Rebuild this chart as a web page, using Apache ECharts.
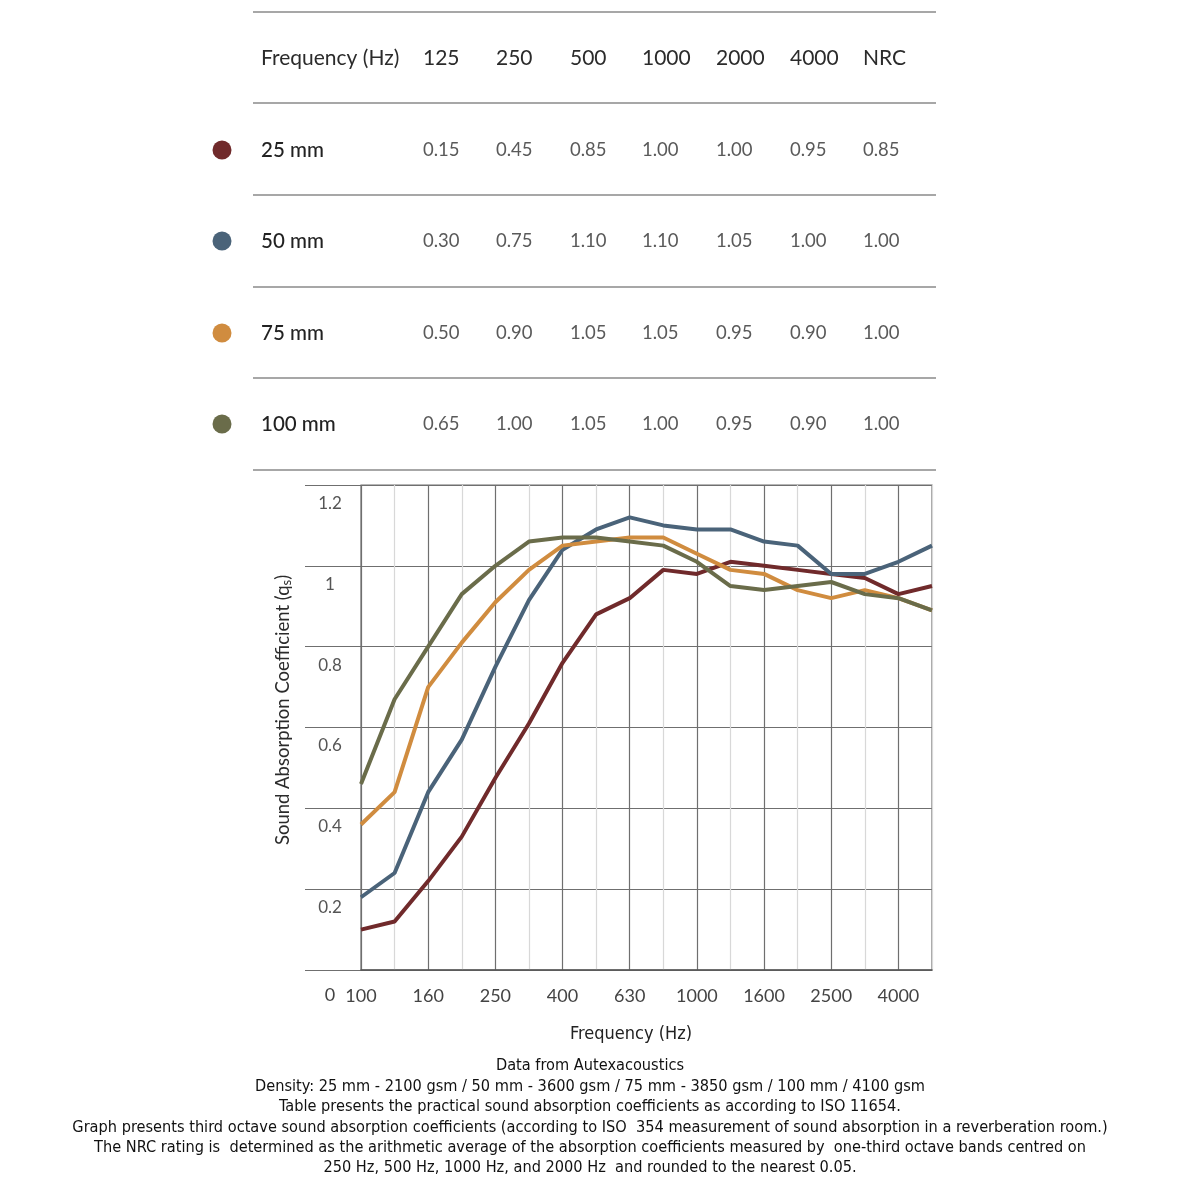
<!DOCTYPE html>
<html><head><meta charset="utf-8">
<script src="https://cdn.jsdelivr.net/npm/echarts@6/dist/echarts.min.js"></script>
<style>html,body{margin:0;padding:0;background:#fff}#c{width:1200px;height:1200px}</style>
</head><body><div id="c"></div>
<script>
// ---- data ----
const bandFreqs = ['100','125','160','200','250','315','400','500','630','800','1000','1250','1600','2000','2500','3150','4000','5000'];
const s25  = [0.10,0.12,0.22,0.33,0.475,0.61,0.76,0.88,0.92,0.99,0.98,1.01,1.00,0.99,0.98,0.97,0.93,0.95];
const s50  = [0.18,0.24,0.44,0.57,0.75,0.915,1.04,1.09,1.12,1.10,1.09,1.09,1.06,1.05,0.98,0.98,1.01,1.05];
const s75  = [0.36,0.44,0.70,0.81,0.91,0.99,1.05,1.06,1.07,1.07,1.03,0.99,0.98,0.94,0.92,0.94,0.92,0.89];
const s100 = [0.46,0.67,0.80,0.93,1.00,1.06,1.07,1.07,1.06,1.05,1.01,0.95,0.94,0.95,0.96,0.93,0.92,0.89];
const seriesNames = ['25 mm','50 mm','75 mm','100 mm'];
const seriesColors = ['#702a2b','#4a6379','#d08c3f','#6a6c4a'];
const tableHeader = ['125','250','500','1000','2000','4000','NRC'];
const table25  = ['0.15','0.45','0.85','1.00','1.00','0.95','0.85'];
const table50  = ['0.30','0.75','1.10','1.10','1.05','1.00','1.00'];
const table75  = ['0.50','0.90','1.05','1.05','0.95','0.90','1.00'];
const table100 = ['0.65','1.00','1.05','1.00','0.95','0.90','1.00'];
const footerLines = [
 'Data from Autexacoustics',
 'Density: 25 mm - 2100 gsm / 50 mm - 3600 gsm / 75 mm - 3850 gsm / 100 mm / 4100 gsm',
 'Table presents the practical sound absorption coefficients as according to ISO 11654.',
 'Graph presents third octave sound absorption coefficients (according to ISO  354 measurement of sound absorption in a reverberation room.)',
 'The NRC rating is  determined as the arithmetic average of the absorption coefficients measured by  one-third octave bands centred on',
 '250 Hz, 500 Hz, 1000 Hz, and 2000 Hz  and rounded to the nearest 0.05.'
];

// ---- layout ----
const tableRows = [table25, table50, table75, table100];
const colX = [423,496,570,642,716,790,863];
const lineYs = [12,103,195,287,378,470];
const rowYs = [150,241,333,424];
const tableFont = 'Lato, "Open Sans", sans-serif';
const footFont = '"Liberation Sans Narrow","DejaVu Sans Condensed","Roboto Condensed",sans-serif';

const graphic = [];
lineYs.forEach(y => graphic.push({type:'line', shape:{x1:253,y1:y,x2:936,y2:y}, style:{stroke:'#8a8a8a', lineWidth:1.5}, silent:true}));
graphic.push({type:'text', x:261, y:58, style:{text:'Frequency (Hz)', font:'21px '+tableFont, fill:'#2b2b2b', textVerticalAlign:'middle'}});
tableHeader.forEach((h,i) => graphic.push({type:'text', x:colX[i], y:58, style:{text:h, font:'21px '+tableFont, fill:'#2b2b2b', textVerticalAlign:'middle'}}));
tableRows.forEach((row,r) => {
  graphic.push({type:'circle', shape:{cx:222, cy:rowYs[r], r:9.5}, style:{fill:seriesColors[r]}});
  graphic.push({type:'text', x:261, y:rowYs[r], style:{text:seriesNames[r], font:'500 20.5px '+tableFont, fill:'#222', textVerticalAlign:'middle'}});
  row.forEach((v,i) => graphic.push({type:'text', x:colX[i], y:rowYs[r], style:{text:v, font:'18.5px '+tableFont, fill:'#5a5a5a', textVerticalAlign:'middle'}}));
});
graphic.push({type:'text', x:283, y:710, rotation:Math.PI/2,
  style:{text:'Sound Absorption Coefficient (q{sub|s})', font:'18.5px '+tableFont, fill:'#2b2b2b', textAlign:'center', textVerticalAlign:'middle',
    rich:{sub:{fontSize:13, fill:'#2b2b2b', fontFamily:tableFont, padding:[8,0,0,0]}}}});
graphic.push({type:'text', x:631, y:1034, style:{text:'Frequency (Hz)', font:'18px '+footFont, fill:'#222', textAlign:'center', textVerticalAlign:'middle'}});
const footYs = [1066,1087,1107,1128,1148,1168];
footerLines.forEach((t,i) => graphic.push({type:'text', x:590, y:footYs[i], style:{text:t, font:'16.2px '+footFont, fill:'#111', textAlign:'center', textVerticalAlign:'middle'}}));

const chart = echarts.init(document.getElementById('c'));
chart.setOption({
  backgroundColor:'#fff',
  animation:false,
  grid:[
    {left:305, right:268, top:485, bottom:230},
    {left:361, right:268, top:485, bottom:230, show:true, borderColor:'#6f6f6f', borderWidth:1.2}
  ],
  xAxis:[
    {gridIndex:0, type:'value', show:false, min:0, max:1},
    {gridIndex:1, type:'category', data:bandFreqs, boundaryGap:false,
     axisLine:{show:true, lineStyle:{color:'#555', width:1.5}}, axisTick:{show:false},
     axisLabel:{interval:1, margin:17, fontSize:18, color:'#444', fontFamily:tableFont},
     splitLine:{show:true, interval:0, lineStyle:{color:['#6f6f6f','#d8d8d8'], width:1.2}}}
  ],
  yAxis:[
    {gridIndex:0, type:'value', min:0, max:1.2, interval:0.2,
     axisLine:{show:false}, axisTick:{show:false},
     splitLine:{show:true, lineStyle:{color:'#6f6f6f', width:1.2}},
     axisLabel:{inside:true, margin:25, align:'center', verticalAlign:'top', padding:[10,0,0,0],
       fontSize:17, color:'#555', fontFamily:tableFont,
       formatter: v => v === 0 ? '{z|0}' : String(Math.round(v*10)/10),
       rich:{z:{fontSize:18, color:'#444', padding:[6,0,0,0], fontFamily:tableFont}}}},
    {gridIndex:1, type:'value', min:0, max:1.2, interval:0.2, show:false, splitLine:{show:false}}
  ],
  graphic: graphic,
  series: [s25, s50, s75, s100].map((d,i) => ({
    type:'line', name:seriesNames[i], xAxisIndex:1, yAxisIndex:1, data:d,
    showSymbol:false, lineStyle:{color:seriesColors[i], width:4}, itemStyle:{color:seriesColors[i]}, z:3+i
  }))
});
</script></body></html>
